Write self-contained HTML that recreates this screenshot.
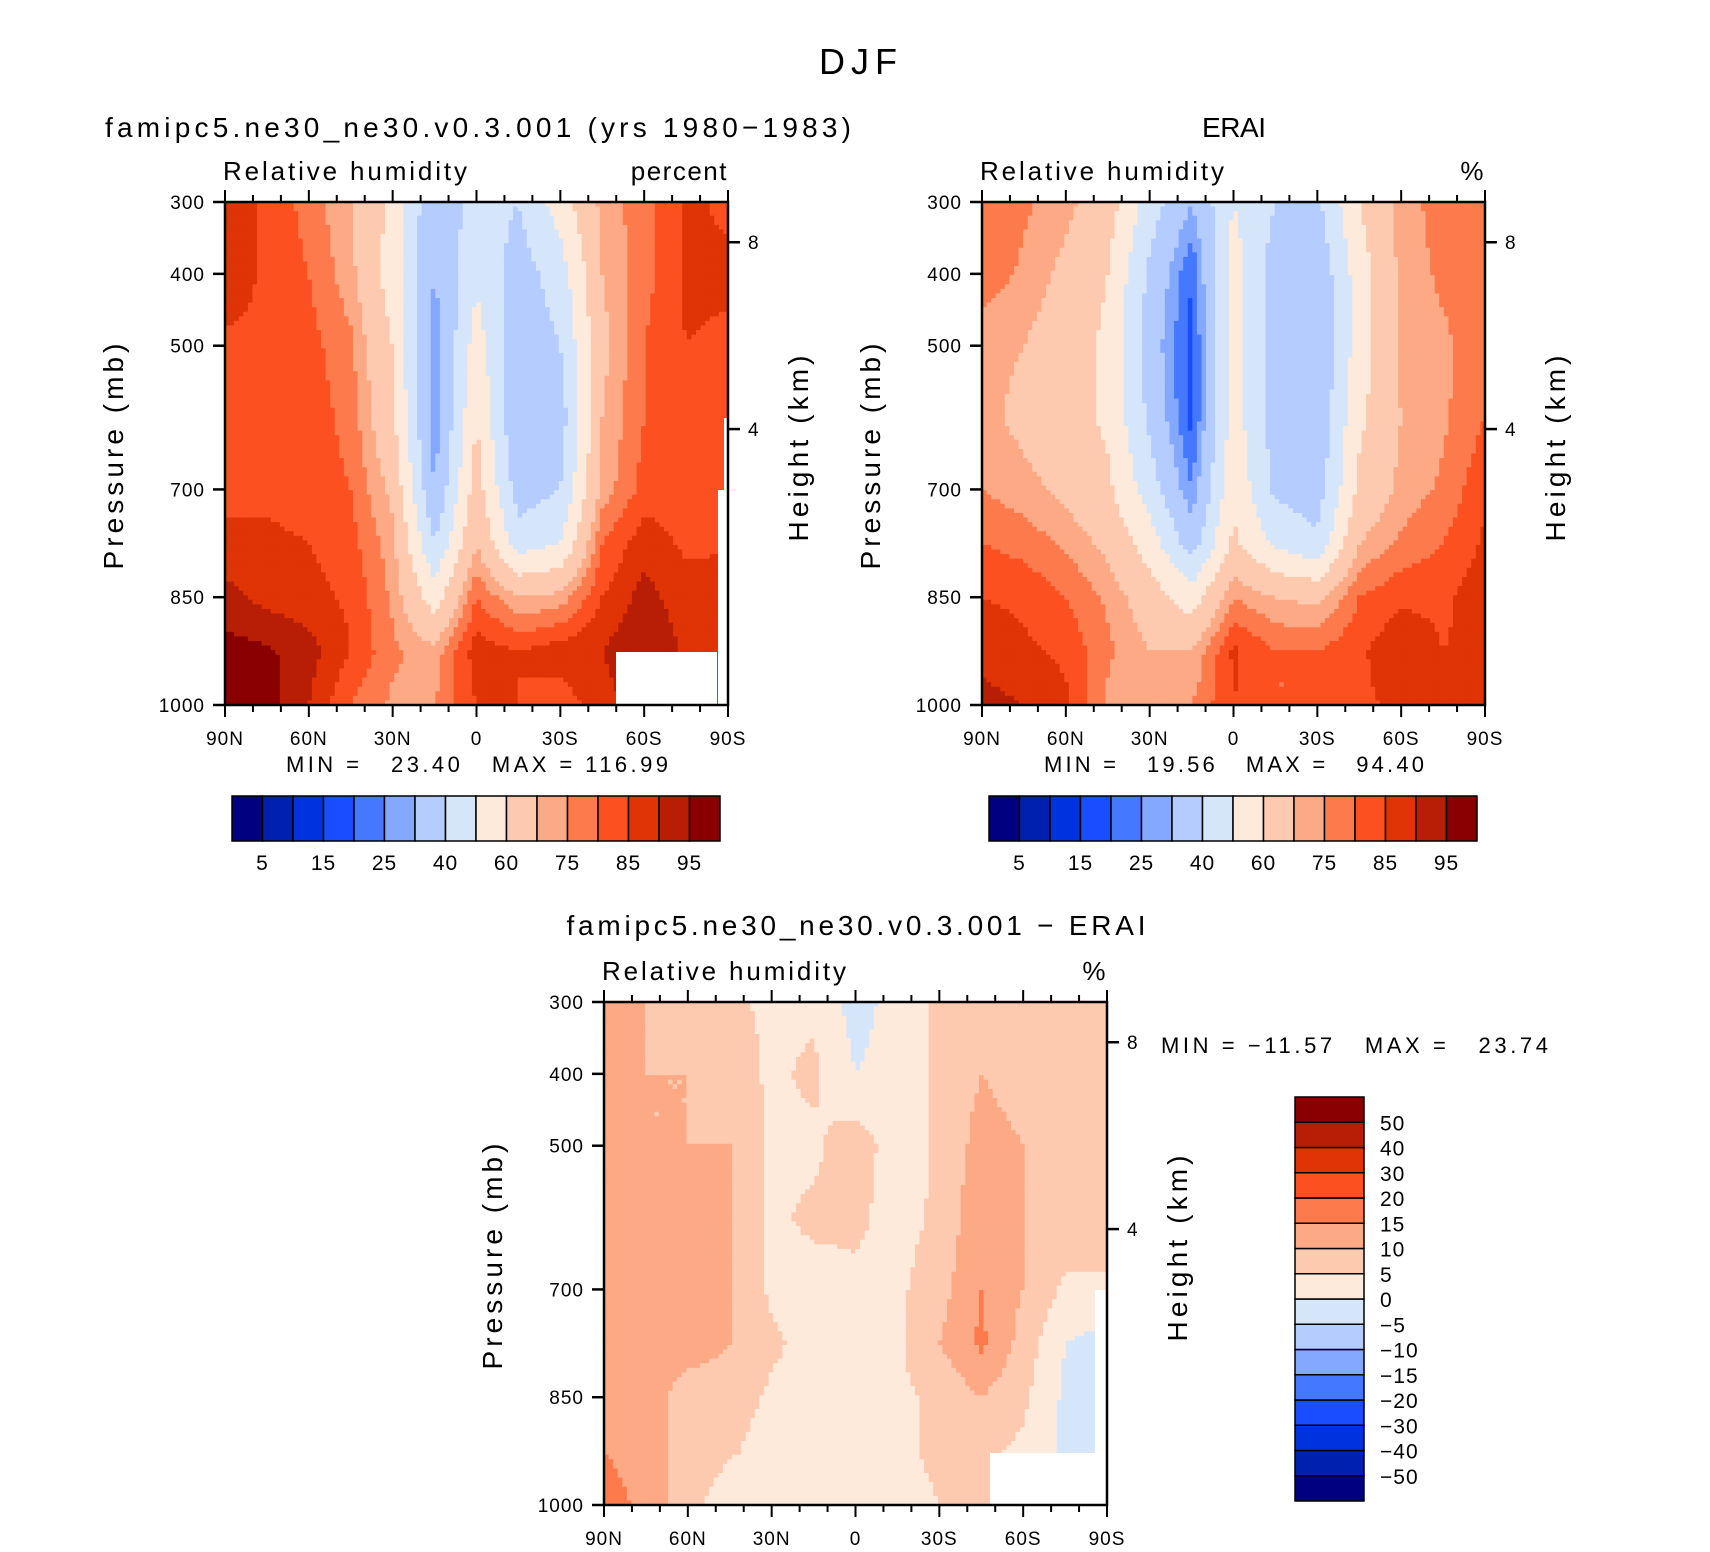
<!DOCTYPE html>
<html><head><meta charset="utf-8">
<style>
html,body{margin:0;padding:0;background:#fff;}
svg{display:block;font-family:"Liberation Sans",sans-serif;}
text{fill:#000;white-space:pre;}
</style></head>
<body>
<svg id="fig" width="1710" height="1552" viewBox="0 0 1710 1552">
<text x="858" y="74" font-size="36" text-anchor="middle" textLength="78">DJF</text>
<g id="p1"></g>
<g id="p2"></g>
<g id="p3"></g>
</svg>
<script>
const lats = [90,75,60,45,30,15,0,-15,-30,-45,-60,-75,-90];
const pres = [300,400,500,600,700,775,850,925,1000];
const absLevels = [5,10,15,20,25,30,40,50,60,70,75,80,85,90,95];
const absLabels = ["5","15","25","40","60","75","85","95"];
const diffLevels = [-50,-40,-30,-20,-15,-10,-5,0,5,10,15,20,30,40,50];
const diffLabels = ["−50","−40","−30","−20","−15","−10","−5","0","5","10","15","20","30","40","50"];
const colors = ["#000080","#0020b0","#0033dd","#1a4dff","#4478ff","#85a8ff","#b4ccff","#d6e6fa","#feeadb","#fdcab0","#fca985","#fd7a4c","#fc5020","#e03306","#b81e06","#8a0000"];
const pLabels = [300,400,500,700,850,1000];
const latLabels = ["90N","60N","30N","0","30S","60S","90S"];
const latTicks = [90,60,30,0,-30,-60,-90];
const model = [
[88,88,84,84,84,86,92,97,97],
[84,84,84,84,84,86,88,96,97],
[78,80,82,83,83,85,87,92,90],
[70,72,76,78,80,82,84,85,80],
[58,55,60,62,68,72,74,76,74],
[30,30,25,25,30,40,55,72,75],
[45,48,55,60,65,70,80,88,85],
[40,35,32,30,35,45,70,85,85],
[55,45,40,35,40,50,72,88,82],
[72,70,68,70,72,80,85,90,88],
[78,78,80,80,82,88,92,95,92],
[86,86,85,84,83,84,87,89,89],
[84,86,84,84,84,85,86,88,88]];
const erai = [
[80,78,72,72,75,80,85,88,92],
[76,74,70,68,72,78,84,86,90],
[72,68,65,65,68,74,80,84,86],
[65,60,58,58,62,68,74,76,74],
[45,38,35,38,45,55,65,70,70],
[30,20,18,18,25,35,55,70,75],
[50,55,55,55,58,62,75,86,85],
[40,35,35,35,38,48,70,80,80],
[38,32,30,32,35,42,68,80,80],
[60,55,55,58,62,70,80,84,84],
[72,72,72,70,72,76,84,89,86],
[78,76,74,74,76,80,84,85,85],
[80,78,78,80,84,86,88,86,86]];
const diff = [
[12,10,12,12,12,12,12,15,20],
[10,10,10,12,12,12,12,10,12],
[8,10,10,12,12,12,8,10,8],
[6,8,10,10,10,10,8,6,0],
[4,4,4,4,4,6,4,2,2],
[4,6,4,6,3,3,3,1,0],
[-2,0,8,6,4,4,4,2,0],
[2,2,2,3,4,4,4,4,3],
[6,6,6,6,8,10,6,6,5],
[8,10,12,14,15,16,10,6,6],
[8,8,10,10,10,8,6,4,4],
[6,10,10,8,4,0,-1,-1,-1],
[8,10,8,8,4,-2,-2,-2,-2]];

const NS="http://www.w3.org/2000/svg";
function mk(parent,tag,attrs,txt){const e=document.createElementNS(NS,tag);for(const k in attrs)e.setAttribute(k,attrs[k]);if(txt!==undefined)e.textContent=txt;parent.appendChild(e);return e;}
function binOf(v,levels){let i=0;while(i<levels.length&&v>=levels[i])i++;return i;}
function sample(grid,lat,p){
  let fi=(90-lat)/15; fi=Math.max(0,Math.min(lats.length-1,fi));
  let j=0; while(j<pres.length-2&&p>pres[j+1])j++;
  let fj=j+(p-pres[j])/(pres[j+1]-pres[j]); fj=Math.max(0,Math.min(pres.length-1,fj));
  const i0=Math.min(Math.floor(fi),lats.length-2), j0=Math.min(Math.floor(fj),pres.length-2);
  const a=fi-i0,b=fj-j0;
  return grid[i0][j0]*(1-a)*(1-b)+grid[i0+1][j0]*a*(1-b)+grid[i0][j0+1]*(1-a)*b+grid[i0+1][j0+1]*a*b;
}
function panel(gid,grid,levels,x0,y0,w,h,opt){
  const g=document.getElementById(gid);
  const xs=lat=>x0+(90-lat)/180*w;
  const ys=p=>y0+(p-300)/700*h;
  const N=110,M=110;
  const cells=mk(g,'g',{});
  
  
  for(let i=0;i<N;i++)for(let j=0;j<M;j++){
    const lat=90-(i+0.5)*180/N, p=300+(j+0.5)*700/M;
    const v=sample(grid,lat,p);
    const r=mk(cells,'rect',{x:(x0+i*w/N).toFixed(2),y:(y0+j*h/M).toFixed(2),width:(w/N+0.6).toFixed(2),height:(h/M+0.6).toFixed(2),fill:colors[binOf(v,levels)]});
    
    
  }
  (opt.missing||[]).forEach(m=>{const r=mk(g,'rect',{x:m[0],y:m[1],width:m[2],height:m[3],fill:'#fff'});
    
    });
  const fr=mk(g,'rect',{x:x0,y:y0,width:w,height:h,fill:'none',stroke:'#000','stroke-width':2.5});
  
  
  for(let lat=90;lat>=-90;lat-=10){
    const x=xs(lat),major=(lat%30===0),L=major?12:7;
    mk(g,'line',{x1:x,y1:y0,x2:x,y2:y0-L,stroke:'#000','stroke-width':2});
    mk(g,'line',{x1:x,y1:y0+h,x2:x,y2:y0+h+L,stroke:'#000','stroke-width':2});
  }
  latTicks.forEach((lat,k)=>{const t=mk(g,'text',{x:xs(lat),y:y0+h+40,'font-size':19,'text-anchor':'middle','letter-spacing':1},latLabels[k]);
    
    });
  pLabels.forEach(p=>{const y=ys(p);mk(g,'line',{x1:x0,y1:y,x2:x0-12,y2:y,stroke:'#000','stroke-width':2.5});
    const t=mk(g,'text',{x:x0-20,y:y+7,'font-size':19,'text-anchor':'end','letter-spacing':1},String(p));
    
    });
  [[8,356],[4,616]].forEach(hp=>{const y=ys(hp[1]);mk(g,'line',{x1:x0+w,y1:y,x2:x0+w+12,y2:y,stroke:'#000','stroke-width':2.5});
    const t=mk(g,'text',{x:x0+w+20,y:y+7,'font-size':19},String(hp[0]));
    
    });
  const cy=y0+h/2+3;
  const yt=mk(g,'text',{x:0,y:0,'font-size':28,'text-anchor':'middle',textLength:226,transform:`translate(${x0-102},${cy}) rotate(-90)`},'Pressure (mb)');
  
  
  const ht=mk(g,'text',{x:0,y:0,'font-size':28,'text-anchor':'middle',textLength:186,transform:`translate(${x0+w+80},${y0+h/2-5}) rotate(-90)`},'Height (km)');
  
  
  const st=mk(g,'text',{x:x0-2,y:y0-22,'font-size':26,textLength:244},'Relative humidity');
  
  
  const un=mk(g,'text',{x:x0+w,y:y0-22,'font-size':26,'text-anchor':'end','letter-spacing':1.5},opt.units);
  
  
  const ti=mk(g,'text',{x:opt.titleX,y:opt.titleY,'font-size':28,'text-anchor':'middle',textLength:opt.titleLen},opt.title);
  
  
  const mm=mk(g,'text',{x:opt.mmX,y:opt.mmY,'font-size':22,'text-anchor':opt.mmAnchor,textLength:opt.mmLen},opt.mm);
  
  
}
function hbar(gid,x0,y0,w,h){
  const g=document.getElementById(gid);const n=colors.length,bw=w/n;
  for(let k=0;k<n;k++){const r=mk(g,'rect',{x:x0+k*bw,y:y0,width:bw,height:h,fill:colors[k],stroke:'#000','stroke-width':1.5});
    
    }
  absLabels.forEach((s,k)=>{const t=mk(g,'text',{x:x0+(2*k+1)*bw,y:y0+h+29,'font-size':21,'text-anchor':'middle','letter-spacing':1},s);
    
    });
}
function vbar(gid,x0,y0,w,h){
  const g=document.getElementById(gid);const n=colors.length,bh=h/n;
  for(let k=0;k<n;k++){const r=mk(g,'rect',{x:x0,y:y0+h-(k+1)*bh,width:w,height:bh,fill:colors[k],stroke:'#000','stroke-width':1.5});
    
    }
  diffLabels.forEach((s,k)=>{const t=mk(g,'text',{x:x0+w+16,y:y0+h-(k+1)*bh+8,'font-size':21,'letter-spacing':1},s);
    
    });
}
panel('p1',model,absLevels,225,202,503,503,{units:'percent',title:'famipc5.ne30_ne30.v0.3.001 (yrs 1980−1983)',titleX:478,titleY:137,titleLen:746,
  mm:'MIN =   23.40   MAX = 116.99',mmX:286,mmY:772,mmAnchor:'start',mmLen:382,
  missing:[[616,652,101,53],[718,490,10,215],[724,418,4,80]]});
panel('p2',erai,absLevels,982,202,503,503,{units:'%',title:'ERAI',titleX:1234,titleY:137,titleLen:64,
  mm:'MIN =   19.56   MAX =   94.40',mmX:1044,mmY:772,mmAnchor:'start',mmLen:380,missing:[]});
panel('p3',diff,diffLevels,604,1002,503,503,{units:'%',title:'famipc5.ne30_ne30.v0.3.001 − ERAI',titleX:856,titleY:935,titleLen:579,
  mm:'MIN = −11.57   MAX =   23.74',mmX:1161,mmY:1053,mmAnchor:'start',mmLen:387,
  missing:[[990,1453,117,52],[1095,1290,12,163]]});
hbar('p1',232,796,488,45);
hbar('p2',989,796,488,45);
vbar('p3',1295,1097,69,404);
</script>
</body></html>
